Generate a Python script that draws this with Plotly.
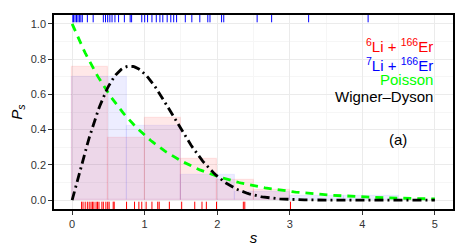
import numpy as np
import plotly.graph_objects as go

# ---- data ----
red_edges = [0.0, 0.5, 1.0, 1.5, 2.0, 2.5, 3.0]
red_density = [0.755, 0.353, 0.466, 0.234, 0.117, 0.060]
blue_edges = [0.0, 0.75, 1.5, 2.25, 3.0, 3.75, 4.5]
blue_density = [0.696, 0.419, 0.141, 0.045, 0.023, 0.023]

red_rug = [0.13, 0.15, 0.18, 0.21, 0.235, 0.26, 0.28, 0.30, 0.33, 0.35, 0.37, 0.41,
           0.43, 0.465, 0.49, 0.51, 0.566, 0.58, 0.75, 0.86, 0.92, 0.96, 1.02, 1.10,
           1.18, 1.20, 1.34, 1.51, 1.69, 1.79, 1.85, 1.99, 2.36, 2.38, 3.01]
blue_rug = [0.01, 0.02, 0.04, 0.06, 0.08, 0.10, 0.12, 0.14, 0.21, 0.29, 0.43, 0.46,
            0.49, 0.52, 0.55, 0.59, 0.64, 0.72, 0.80, 0.82, 0.96, 1.00, 1.04, 1.10,
            1.16, 1.21, 1.25, 1.31, 1.36, 1.40, 1.44, 1.56, 1.65, 1.76, 1.87, 1.90,
            2.06, 2.09, 2.55, 2.75, 3.26, 4.08]

x_ticks = [0, 1, 2, 3, 4, 5]
y_ticks = [0.0, 0.2, 0.4, 0.6, 0.8, 1.0]

legend_labels = ["<sup>6</sup>Li + <sup>166</sup>Er", "<sup>7</sup>Li + <sup>166</sup>Er",
                 "Poisson", "Wigner\u2013Dyson"]
legend_colors = ["#FF0000", "#0000FF", "#00FF00", "#000000"]

# theoretical curves
s_grid = np.linspace(0, 5, 251)
poisson = np.exp(-s_grid)
wigner_dyson = np.pi / 2 * s_grid * np.exp(-np.pi * s_grid ** 2 / 4)

FONT = "Liberation Sans, Arial, Helvetica, sans-serif"

def centers(edges):
    return [(a + b) / 2 for a, b in zip(edges[:-1], edges[1:])]

def widths(edges):
    return [b - a for a, b in zip(edges[:-1], edges[1:])]

fig = go.Figure()
fig.add_trace(go.Bar(x=centers(red_edges), y=red_density, width=widths(red_edges),
                     marker=dict(color="rgba(255,0,0,0.09)",
                                 line=dict(color="rgba(255,0,0,0.09)", width=1.2)),
                     showlegend=False))
fig.add_trace(go.Bar(x=centers(blue_edges), y=blue_density, width=widths(blue_edges),
                     marker=dict(color="rgba(0,0,255,0.07)",
                                 line=dict(color="rgba(0,0,255,0.06)", width=1.2)),
                     showlegend=False))
fig.add_trace(go.Scatter(x=s_grid, y=poisson, mode="lines",
                         line=dict(color="#00FF00", width=2.8, dash="8px,6px"),
                         showlegend=False))
fig.add_trace(go.Scatter(x=s_grid, y=wigner_dyson, mode="lines",
                         line=dict(color="#000000", width=2.8, dash="9px,4px,2px,4px"),
                         showlegend=False))
# rugs
fig.add_trace(go.Scatter(x=red_rug, y=[0.016] * len(red_rug), yaxis="y2", mode="markers",
                         marker=dict(symbol="line-ns", size=6,
                                     line=dict(color="#FF0000", width=1)),
                         showlegend=False))
fig.add_trace(go.Scatter(x=blue_rug, y=[0.984] * len(blue_rug), yaxis="y2", mode="markers",
                         marker=dict(symbol="line-ns", size=6,
                                     line=dict(color="#0000FF", width=1)),
                         showlegend=False))

axis_common = dict(showline=True, mirror=True, linecolor="black", linewidth=1.5,
                   ticks="outside", ticklen=4, tickcolor="#333333", tickwidth=1,
                   showgrid=True, gridcolor="#EBEBEB", gridwidth=1, zeroline=False,
                   automargin=False,
                   tickfont=dict(family=FONT, size=11, color="#333333"))

# the page body adds an 8px offset, so the figure is sized to fill the rest
fig.update_layout(
    width=461, height=242,
    margin=dict(l=46, r=16, t=7, b=41),
    plot_bgcolor="white", paper_bgcolor="white",
    barmode="overlay", bargap=0,
    xaxis=dict(range=[-0.25, 5.25], tickvals=x_ticks,
               minor=dict(dtick=0.5, showgrid=True, gridcolor="#F6F6F6", ticks=""),
               title=dict(text="<i>s</i>", font=dict(family=FONT, size=15, color="black"),
                          standoff=4),
               **axis_common),
    yaxis=dict(range=[-0.05, 1.05], tickvals=y_ticks, tickformat=".1f",
               minor=dict(dtick=0.1, showgrid=True, gridcolor="#F6F6F6", ticks=""),
               title=dict(text="<i>P</i><sub><i>s</i></sub>",
                          font=dict(family=FONT, size=15, color="black"), standoff=9),
               **axis_common),
    yaxis2=dict(overlaying="y", range=[0, 1], visible=False, showgrid=False),
)

legend_y = [0.878, 0.772, 0.682, 0.589]
for lab, col, yy in zip(legend_labels, legend_colors, legend_y):
    fig.add_annotation(x=5.0, y=yy, xref="x", yref="y", text=lab, showarrow=False,
                       xanchor="right", yanchor="middle",
                       font=dict(family=FONT, size=15, color=col))
fig.add_annotation(x=4.49, y=0.344, xref="x", yref="y", text="(a)", showarrow=False,
                   xanchor="center", yanchor="middle",
                   font=dict(family=FONT, size=15, color="black"))

fig.write_html("out.html")
